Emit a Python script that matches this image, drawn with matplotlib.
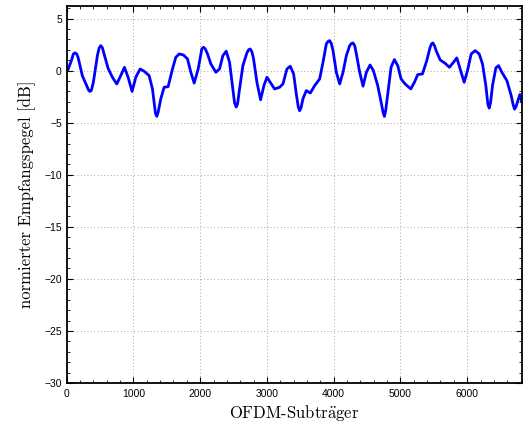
import matplotlib
matplotlib.use("Agg")
import matplotlib.pyplot as plt
from matplotlib.ticker import MultipleLocator

# subcarrier index and normalised receive level (dB)
subcarrier = [
    0, 20, 70, 100, 125, 150, 170, 235, 300, 330, 350, 370, 400, 460, 485,
    510, 535, 560, 620, 685, 750, 810, 865, 920, 980, 1035, 1100, 1160, 1235,
    1285, 1330, 1350, 1370, 1410, 1460, 1520, 1585, 1635, 1685, 1750, 1810,
    1860, 1910, 1970, 2025, 2050, 2075, 2110, 2160, 2235, 2290, 2340, 2390,
    2440, 2490, 2515, 2540, 2560, 2590, 2640, 2700, 2725, 2750, 2775, 2800,
    2850, 2905, 2955, 3000, 3050, 3115, 3190, 3240, 3300, 3350, 3400, 3440,
    3470, 3490, 3510, 3540, 3590, 3650, 3715, 3790, 3840, 3890, 3915, 3940,
    3965, 3990, 4040, 4090, 4140, 4190, 4240, 4265, 4290, 4315, 4340, 4390,
    4440, 4490, 4545, 4595, 4660, 4710, 4740, 4760, 4780, 4810, 4860, 4910,
    4960, 5010, 5070, 5155, 5210, 5260, 5330, 5395, 5445, 5465, 5485, 5510,
    5535, 5595, 5670, 5735, 5795, 5845, 5895, 5955, 6005, 6060, 6120, 6180,
    6230, 6280, 6310, 6330, 6350, 6380, 6430, 6470, 6520, 6595, 6660, 6690,
    6710, 6730, 6760, 6790, 6817,
]
level_db = [
    0.0, 0.1, 0.96, 1.6, 1.7, 1.6, 1.28, -0.5, -1.44, -1.9, -2.0, -1.9, -1.1,
    1.44, 2.15, 2.4, 2.2, 1.6, 0.22, -0.64, -1.28, -0.48, 0.32, -0.64, -2.0,
    -0.64, 0.16, -0.06, -0.48, -1.76, -4.1, -4.4, -4.0, -2.7, -1.6, -1.54,
    0.16, 1.28, 1.6, 1.5, 1.12, -0.16, -1.2, 0.16, 2.1, 2.24, 2.1, 1.6, 0.64,
    -0.16, 0.16, 1.44, 1.86, 0.8, -1.76, -3.1, -3.5, -3.2, -1.76, 0.48, 1.7,
    2.0, 2.08, 1.8, 1.12, -1.12, -2.8, -1.44, -0.64, -1.12, -1.76, -1.6,
    -1.28, 0.16, 0.42, -0.32, -2.24, -3.5, -3.85, -3.6, -2.7, -1.92, -2.15,
    -1.44, -0.8, 0.8, 2.56, 2.8, 2.88, 2.6, 1.92, -0.16, -1.28, -0.16, 1.44,
    2.4, 2.6, 2.66, 2.4, 1.6, -0.16, -1.5, -0.16, 0.54, 0.0, -1.44, -3.0,
    -4.0, -4.4, -3.8, -2.24, 0.32, 1.06, 0.48, -0.8, -1.28, -1.76, -1.12,
    -0.38, -0.32, 0.96, 2.24, 2.55, 2.66, 2.4, 1.92, 1.03, 0.7, 0.32, 0.8,
    1.22, 0.16, -1.12, 0.0, 1.6, 1.92, 1.6, 0.64, -1.44, -3.2, -3.6, -3.1,
    -1.44, 0.26, 0.48, -0.16, -0.96, -2.4, -3.3, -3.7, -3.5, -2.88, -2.3,
    -3.0,
]

plt.rcParams['mathtext.fontset'] = 'cm'
plt.rcParams['font.family'] = ['Liberation Sans', 'DejaVu Sans']

fig = plt.figure(figsize=(5.26, 4.32), dpi=100)
ax = fig.add_axes([0.1268, 0.1134, 0.865, 0.8726])

ax.plot(subcarrier, level_db, color='#0000ff', linewidth=2.0,
        solid_joinstyle='round', solid_capstyle='round')

ax.set_xlim(0, 6817)
ax.set_ylim(-30, 6.2)
ax.xaxis.set_major_locator(MultipleLocator(1000))
ax.xaxis.set_minor_locator(MultipleLocator(200))
ax.yaxis.set_major_locator(MultipleLocator(5))
ax.yaxis.set_minor_locator(MultipleLocator(1))
ax.tick_params(which='both', direction='in', top=True, right=True, labelsize=7.5)
ax.tick_params(which='major', length=4, width=0.8)
ax.tick_params(which='minor', length=2, width=0.6)
ax.tick_params(axis='x', pad=4)
ax.grid(True, which='major', linestyle=(0, (1, 3)), color='#8c8c8c', linewidth=0.6)
for s in ax.spines.values():
    s.set_linewidth(1.3)

ax.set_xlabel(r'OFDM-Subtr$\ddot{\mathrm{a}}$ger', family='cmr10', fontsize=12, labelpad=3)
ax.set_ylabel('normierter Empfangspegel [dB]', family='cmr10', fontsize=12, labelpad=6)

fig.savefig('out.png', dpi=100)
